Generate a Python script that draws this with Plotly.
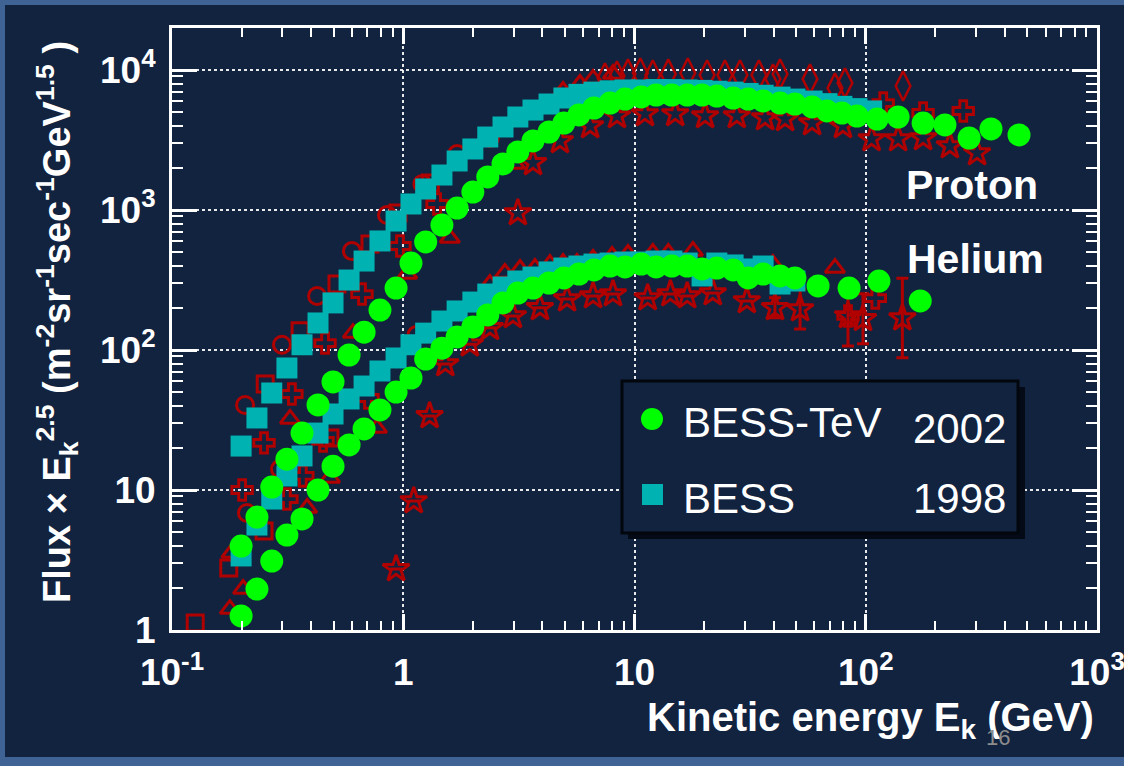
import plotly.graph_objects as go

# ---------------- data: flux x E^2.5 vs kinetic energy (GeV) ----------------
# BESS-TeV 2002, protons
tev_p_E = [0.199, 0.233, 0.270, 0.314, 0.365, 0.428, 0.497, 0.583, 0.677, 0.793,
           0.931, 1.08, 1.25, 1.47, 1.71, 2.00, 2.32, 2.70, 3.13, 3.64,
           4.27, 4.95, 5.75, 6.68, 7.84, 9.10, 10.7, 12.4, 14.5, 16.9,
           19.6, 22.7, 26.7, 31.0, 36.0, 42.6, 49.4, 58.6, 68.0, 78.9,
           91.6, 112, 138, 177, 220, 280, 348, 460]
tev_p_F = [3.98, 6.41, 10.5, 16.6, 25.5, 40.5, 59.1, 92.1, 134, 193,
           277, 418, 591, 781, 1033, 1344, 1721, 2132, 2597, 3112,
           3607, 4181, 4771, 5353, 5808, 6205, 6418, 6629, 6629, 6629,
           6629, 6519, 6310, 6205, 6010, 5808, 5715, 5445, 5097, 4930,
           4693, 4467, 4616, 4181, 4048, 3268, 3791, 3435]

# BESS 1998, protons
bess_p_E = [0.199, 0.233, 0.270, 0.314, 0.365, 0.428, 0.497, 0.583, 0.677, 0.793,
            0.931, 1.08, 1.25, 1.47, 1.71, 2.00, 2.32, 2.70, 3.13, 3.64,
            4.27, 4.95, 5.75, 6.68, 7.84, 9.10, 10.7, 12.4, 14.5, 16.9,
            19.6, 22.7, 26.7, 31.0, 36.0, 42.6, 49.4, 58.6, 68.0, 78.9,
            91.6, 106]
bess_p_F = [20.6, 32.7, 49.3, 74.4, 109, 156, 217, 316, 432, 601,
            834, 1104, 1413, 1778, 2239, 2728, 3321, 3917, 4616, 5176,
            5715, 6310, 6700, 6950, 7100, 7200, 7200, 7250, 7250, 7200,
            7150, 7050, 6950, 6800, 6600, 6400, 6200, 6000, 5750, 5500,
            5300, 5100]

# BESS-TeV 2002, helium
tev_he_E = [0.199, 0.233, 0.270, 0.314, 0.365, 0.428, 0.497, 0.583, 0.677, 0.793,
            0.931, 1.08, 1.25, 1.47, 1.71, 2.00, 2.32, 2.70, 3.13, 3.64,
            4.27, 4.95, 5.75, 6.68, 7.84, 9.10, 10.7, 12.4, 14.5, 16.9,
            19.6, 22.7, 26.7, 31.0, 36.0, 42.6, 49.4, 62.2, 84.7, 114, 172]
tev_he_F = [1.26, 1.96, 3.11, 4.77, 6.21, 10.0, 14.8, 21.0, 27.3, 37.3,
            50.1, 63.1, 86.2, 103, 124, 146, 178, 217, 255, 277,
            301, 327, 349, 373, 398, 392, 411, 392, 398, 398,
            379, 385, 373, 327, 349, 338, 327, 287, 277, 311, 224]
tev_he_err = [None] * 40 + [31]
tev_he_errm = [None] * 40 + [27]

# BESS 1998, helium
bess_he_E = [0.199, 0.233, 0.270, 0.314, 0.365, 0.428, 0.497, 0.583, 0.677, 0.793,
             0.931, 1.08, 1.25, 1.47, 1.71, 2.00, 2.32, 2.70, 3.13, 3.64,
             4.27, 4.95, 5.75, 6.68, 7.84, 9.10, 10.7, 12.4, 14.5, 16.9,
             19.6, 22.7, 26.7, 31.0, 36.0, 42.6, 49.4]
bess_he_F = [3.38, 5.62, 8.62, 12.6, 17.5, 25.5, 34.9, 44.7, 55.3, 70.8,
             87.7, 109, 132, 161, 190, 220, 251, 282, 311, 332,
             361, 385, 398, 411, 418, 425, 425, 432, 432, 418,
             338, 418, 405, 379, 398, 296, 311]

# other measurements (open red symbols)
o_p_circle_E = [0.207, 0.299, 0.424, 0.600, 0.851, 1.21, 1.71, 2.37]
o_p_circle_F = [40.5, 109, 243, 509, 921, 1535, 2512, 3268]
o_he_circle_E = [0.211, 0.293, 1.14]
o_he_circle_F = [6.85, 14.1, 128]

o_p_square_E = [0.253, 0.358, 0.517, 0.718, 0.949, 1.31]
o_p_square_F = [57.2, 137, 296, 572, 952, 1560]
o_he_square_E = [0.126, 0.176, 0.250, 0.482]
o_he_square_F = [1.12, 2.77, 5.10, 23.5]

o_p_cross_E = [0.201, 0.250, 0.330, 0.459, 0.663, 0.968, 1.40, 119, 177, 264]
o_p_cross_F = [10.0, 21.7, 48.5, 112, 251, 553, 1104, 5808, 4930, 5097]
o_he_cross_E = [0.314, 0.368, 0.450, 0.704, 83.8, 110]
o_he_cross_F = [8.62, 12.6, 22.4, 45.4, 175, 235]

o_p_tri_E = [0.324, 0.606, 1.04, 1.59, 3.04, 4.91, 5.81, 6.62, 8.07]
o_p_tri_F = [32.2, 132, 349, 631, 2132, 7079, 7943, 8630, 9360]
o_he_tri_E = [0.178, 0.181, 0.203, 0.384, 0.482, 0.770, 2.37, 2.75, 3.20, 3.71,
              4.31, 4.91, 5.64, 6.62, 8.0, 9.37, 12.0, 14.0, 17.9, 39.7, 73.6]
o_he_tri_F = [1.41, 3.55, 1.96, 7.43, 12.2, 27.7, 296, 355, 379, 385,
              411, 418, 418, 447, 469, 485, 493, 493, 509, 411, 385]

o_p_diamond_E = [7.45, 8.40, 9.37, 10.6, 12.0, 14.0, 17.0, 20.6, 24.6, 28.6,
                 34.5, 39.7, 42.6, 57.4, 73.6, 81.3, 145]
o_p_diamond_F = [8770, 9060, 9360, 9520, 9210, 9360, 9520, 9210, 9210, 9210,
                 9210, 8630, 9360, 8630, 7440, 8080, 7690]

o_p_star_E = [3.13, 3.64, 4.76, 6.43, 8.40, 11.1, 15.0, 20.2, 27.7, 36.7,
              44.8, 58.6, 79.7, 106, 138, 177, 231, 303]
o_p_star_F = [952, 2168, 3112, 3981, 4693, 4850, 4850, 4693, 4693, 4540,
              4467, 4181, 3981, 3214, 3214, 3268, 2864, 2553]
o_he_star_E = [0.931, 1.11, 1.30, 1.52, 1.94, 2.37, 2.98, 3.90, 5.11, 6.62,
               8.07, 11.4, 14.3, 16.9, 21.8, 30.6, 40.5, 52.0, 83.8, 97.3, 144]
o_he_star_F = [2.73, 8.35, 33.8, 79.4, 110, 144, 175, 200, 231, 243,
               251, 235, 251, 243, 255, 224, 200, 196, 175, 167, 169]
o_he_star_err = [None] * 16 + [36, 76, 111, 85, 157]
o_he_star_errm = [None] * 16 + [30, 55, 68, 56, 81]

x_tickvals = [0.1, 1, 10, 100, 1000]
x_ticktext = ["10<sup>-1</sup>", "1", "10", "10<sup>2</sup>", "10<sup>3</sup>"]
y_tickvals = [1, 10, 100, 1000, 10000]
y_ticktext = ["1", "10", "10<sup>2</sup>", "10<sup>3</sup>", "10<sup>4</sup>"]

# ---------------- styling ----------------
NAVY = "#12233f"
EDGE = "#3f6394"
RED = "#b00000"
GREEN = "#00ff00"
CYAN = "#00b2b2"
FONT = "Liberation Sans"

W, H = 1124, 766
ML, MR, MT, MB = 172, 27, 28, 136
PW, PH = W - ML - MR, H - MT - MB


def px(x):
    return (x - ML) / PW


def py(y):
    return (H - MB - y) / PH


fig = go.Figure()


def red(E, F, symbol, size=17, width=3, err=None, errm=None):
    kw = {}
    if err is not None:
        kw["error_y"] = dict(type="data", array=err, arrayminus=errm,
                             color=RED, thickness=3, width=6, symmetric=False)
    fig.add_trace(go.Scatter(
        x=E, y=F, mode="markers", showlegend=False, hoverinfo="skip",
        marker=dict(symbol=symbol, size=size, color=RED,
                    line=dict(color=RED, width=width)), **kw))


red(o_he_star_E, o_he_star_F, "star-open", 20, 3, o_he_star_err, o_he_star_errm)
red(o_p_star_E, o_p_star_F, "star-open", 20, 3)
red(o_p_diamond_E, o_p_diamond_F, "diamond-tall-open", 21, 2.5)
red(o_p_tri_E, o_p_tri_F, "triangle-up-open", 17)
red(o_he_tri_E, o_he_tri_F, "triangle-up-open", 17)
red(o_p_cross_E, o_p_cross_F, "cross-open", 17)
red(o_he_cross_E, o_he_cross_F, "cross-open", 17)
red(o_p_square_E, o_p_square_F, "square-open", 16)
red(o_he_square_E, o_he_square_F, "square-open", 16)
red(o_p_circle_E, o_p_circle_F, "circle-open", 17)
red(o_he_circle_E, o_he_circle_F, "circle-open", 17)

for E, F in ((bess_p_E, bess_p_F), (bess_he_E, bess_he_F)):
    fig.add_trace(go.Scatter(
        x=E, y=F, mode="markers", showlegend=False, hoverinfo="skip",
        marker=dict(symbol="square", size=21, color=CYAN, line=dict(width=0))))

fig.add_trace(go.Scatter(
    x=tev_p_E, y=tev_p_F, mode="markers", showlegend=False, hoverinfo="skip",
    marker=dict(symbol="circle", size=23, color=GREEN, line=dict(width=0))))
fig.add_trace(go.Scatter(
    x=tev_he_E, y=tev_he_F, mode="markers", showlegend=False, hoverinfo="skip",
    error_y=dict(type="data", array=tev_he_err, arrayminus=tev_he_errm,
                 symmetric=False, color=GREEN, thickness=3, width=6),
    marker=dict(symbol="circle", size=23, color=GREEN, line=dict(width=0))))

axis_common = dict(
    type="log", showline=True, linecolor="white", linewidth=3, mirror="ticks",
    ticks="inside", tickcolor="white", tickwidth=2.5, automargin=False,
    showgrid=True, gridcolor="rgba(255,255,255,0.9)", gridwidth=2, griddash="dot",
    zeroline=False, tickmode="array", ticklabeloverflow="allow",
    tickfont=dict(family=FONT, size=37, color="white", weight="bold"),
)

fig.update_xaxes(**axis_common, range=[-1, 3], tickvals=x_tickvals, ticktext=x_ticktext,
                 ticklen=16, ticklabelstandoff=8,
                 minor=dict(ticks="inside", ticklen=9, tickcolor="white", tickwidth=2,
                            dtick="D1", showgrid=False))
fig.update_yaxes(**axis_common, range=[0, 4.3], tickvals=y_tickvals, ticktext=y_ticktext,
                 ticklen=25, ticklabelstandoff=6,
                 minor=dict(ticks="inside", ticklen=11, tickcolor="white", tickwidth=2,
                            dtick="D1", showgrid=False))

shapes = [
    # slide frame strips
    dict(type="rect", xref="paper", yref="paper", x0=px(0), x1=px(5), y0=py(766), y1=py(0),
         fillcolor=EDGE, line=dict(width=0), layer="below"),
    dict(type="rect", xref="paper", yref="paper", x0=px(0), x1=px(1124), y0=py(766), y1=py(757),
         fillcolor=EDGE, line=dict(width=0), layer="below"),
    dict(type="rect", xref="paper", yref="paper", x0=px(0), x1=px(1124), y0=py(5), y1=py(0),
         fillcolor=EDGE, line=dict(width=0), layer="below"),
    # legend shadow and box
    dict(type="rect", xref="paper", yref="paper", x0=px(628), x1=px(1025), y0=py(539), y1=py(387),
         fillcolor="#050b16", line=dict(width=0)),
    dict(type="rect", xref="paper", yref="paper", x0=px(622), x1=px(1018), y0=py(533), y1=py(381),
         fillcolor=NAVY, line=dict(color="#02060d", width=3)),
    # legend keys
    dict(type="circle", xref="paper", yref="paper", x0=px(641), x1=px(663), y0=py(430), y1=py(408),
         fillcolor=GREEN, line=dict(width=0)),
    dict(type="rect", xref="paper", yref="paper", x0=px(642), x1=px(663), y0=py(505), y1=py(484),
         fillcolor=CYAN, line=dict(width=0)),
]

txt = dict(family=FONT, color="white")
annotations = [
    dict(x=px(681), y=py(422), text="BESS-TeV", xanchor="left",
         font=dict(**txt, size=42)),
    dict(x=px(1008), y=py(428), text="2002", xanchor="right",
         font=dict(**txt, size=42)),
    dict(x=px(681), y=py(498), text="BESS", xanchor="left",
         font=dict(**txt, size=42)),
    dict(x=px(1008), y=py(498), text="1998", xanchor="right",
         font=dict(**txt, size=42)),
    dict(x=px(972), y=py(185), text="Proton",
         font=dict(**txt, size=41, weight="bold")),
    dict(x=px(975), y=py(259), text="Helium",
         font=dict(**txt, size=41, weight="bold")),
    dict(x=px(870), y=py(720), text="Kinetic energy E<sub>k</sub> (GeV)",
         font=dict(**txt, size=40, weight="bold")),
    dict(x=px(57), y=py(322), textangle=-90,
         text="Flux × E<sub>k</sub><sup>2.5</sup> (m<sup>-2</sup>sr<sup>-1</sup>sec<sup>-1</sup>GeV<sup>1.5</sup> )",
         font=dict(**txt, size=38, weight="bold")),
    dict(x=px(998), y=py(737), text="16",
         font=dict(family=FONT, size=22, color="#8c8c8c")),
]
for a in annotations:
    a.setdefault("xanchor", "center")
    a.update(xref="paper", yref="paper", showarrow=False, yanchor="middle")

fig.update_layout(
    width=W, height=H, margin=dict(l=ML, r=MR, t=MT, b=MB, autoexpand=False),
    paper_bgcolor=NAVY, plot_bgcolor=NAVY,
    shapes=shapes, annotations=annotations, showlegend=False,
)

fig.write_html("out.html")
